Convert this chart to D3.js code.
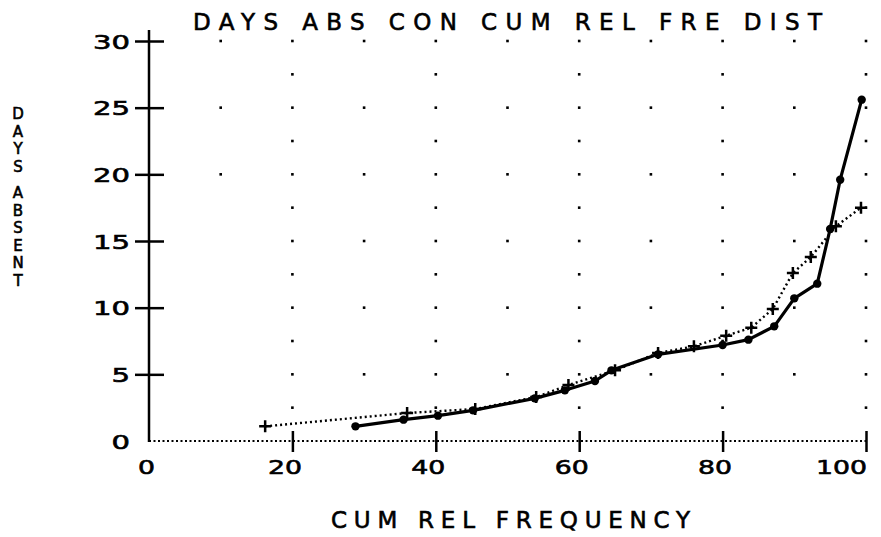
<!DOCTYPE html>
<html>
<head>
<meta charset="utf-8">
<script src="https://cdn.jsdelivr.net/npm/d3@7/dist/d3.min.js"></script>
<style>
  html, body { margin: 0; padding: 0; background: #fff; }
  svg { display: block; }
  text { font-family: "DejaVu Sans", sans-serif; fill: #000; stroke: #000; stroke-width: 0.6; }
</style>
</head>
<body>
<svg id="chart"></svg>
<script>
// values
const solidX = [28.8, 35.5, 40.3, 45.2, 53.8, 58.0, 62.2, 64.5, 71.0, 80.0, 83.6, 87.2, 90.0, 93.2, 95.0, 96.4, 99.4];
const solidY = [1.1, 1.6, 1.9, 2.3, 3.2, 3.8, 4.5, 5.3, 6.5, 7.2, 7.6, 8.6, 10.7, 11.8, 15.9, 19.6, 25.6];

const dottedX = [16.2, 36.0, 45.5, 54.0, 58.5, 65.0, 71.0, 76.0, 80.5, 84.0, 87.0, 89.8, 92.3, 95.8, 99.3];
const dottedY = [1.1, 2.1, 2.4, 3.3, 4.2, 5.3, 6.6, 7.1, 7.9, 8.5, 9.9, 12.6, 13.8, 16.1, 17.5];

const xTicks = [0, 20, 40, 60, 80, 100];
const yTicks = [0, 5, 10, 15, 20, 25, 30];
const gridX = [10, 20, 30, 40, 50, 60, 70, 80, 90, 100];
const gridY = [2.5, 5, 7.5, 10, 12.5, 15, 17.5, 20, 22.5, 25, 27.5, 30];

const title = 'DAYS ABS CON CUM REL FRE DIST';
const xTitle = 'CUM REL FREQUENCY';
const yTitle = ['DAYS', 'ABSENT'];

const width = 881;
const height = 537;

const svg = d3.select('#chart')
  .attr('width', width)
  .attr('height', height);

const x = d3.scaleLinear().domain([0, 100]).range([149, 866]);
const y = d3.scaleLinear().domain([0, 30]).range([441, 41]);

// stretch a text to a given width, plotter style
function fit(sel, len, mode) {
  sel.attr('textLength', len).attr('lengthAdjust', mode || 'spacing');
}

// dotted background grid
const gridPts = [];
gridX.forEach((gx) => {
  gridY.forEach((gy) => {
    const full = gy % 5 === 0;
    if (!full && gx % 20 !== 0) return;
    if (gx === 10 && gy < 20) return;
    gridPts.push([gx, gy]);
  });
});

svg.append('g')
  .selectAll('rect')
  .data(gridPts)
  .enter()
  .append('rect')
  .attr('x', (d) => x(d[0]) - 1.3)
  .attr('y', (d) => y(d[1]) - 1.3)
  .attr('width', 2.6)
  .attr('height', 2.6)
  .attr('fill', '#000');

// y axis
const yAxis = svg.append('g')
  .attr('transform', `translate(${x(0)},0)`)
  .call(d3.axisLeft(y).tickValues(yTicks).tickSize(14).tickPadding(7));

yAxis.select('.domain').remove();
yAxis.selectAll('.tick line')
  .attr('x1', 15)
  .attr('stroke', '#000')
  .attr('stroke-width', 2.5)
  .filter((d) => d === 0).remove();
yAxis.selectAll('.tick text')
  .attr('font-family', '"DejaVu Sans", sans-serif')
  .attr('font-size', 20)
  .attr('x', -19)
  .attr('dy', '0.36em')
  .each(function (d) {
    fit(d3.select(this), String(d).length * 18.5, 'spacingAndGlyphs');
  });

svg.append('line')
  .attr('x1', x(0)).attr('x2', x(0))
  .attr('y1', y(30) - 11).attr('y2', y(0) + 1)
  .attr('stroke', '#000')
  .attr('stroke-width', 2.5);

// x axis (dotted baseline)
const xAxis = svg.append('g')
  .attr('transform', `translate(0,${y(0)})`)
  .call(d3.axisBottom(x).tickValues(xTicks).tickSize(11));

xAxis.select('.domain').remove();
xAxis.selectAll('.tick line')
  .attr('y1', -10)
  .attr('stroke', '#000')
  .attr('stroke-width', 2.5)
  .filter((d) => d === 0).remove();
xAxis.selectAll('.tick text')
  .attr('font-family', '"DejaVu Sans", sans-serif')
  .attr('font-size', 20)
  .attr('y', 33)
  .attr('dy', 0)
  .attr('x', (d) => (d === 0 ? -3 : d === 100 ? -25 : -8))
  .each(function (d) {
    fit(d3.select(this), String(d).length * 17, 'spacingAndGlyphs');
  });

svg.append('line')
  .attr('x1', x(0)).attr('x2', x(100) + 3)
  .attr('y1', y(0)).attr('y2', y(0))
  .attr('stroke', '#000')
  .attr('stroke-width', 2)
  .attr('stroke-dasharray', '2,2.5');

// series
const line = d3.line()
  .x((d) => x(d[0]))
  .y((d) => y(d[1]));

const solid = solidX.map((v, i) => [v, solidY[i]]);
const dotted = dottedX.map((v, i) => [v, dottedY[i]]);

svg.append('path')
  .datum(dotted)
  .attr('d', line)
  .attr('fill', 'none')
  .attr('stroke', '#000')
  .attr('stroke-width', 2.4)
  .attr('stroke-dasharray', '2,3');

svg.append('g')
  .selectAll('path')
  .data(dotted)
  .enter()
  .append('path')
  .attr('transform', (d) => `translate(${x(d[0])},${y(d[1])})`)
  .attr('d', 'M-6,0H6M0,-6V6')
  .attr('stroke', '#000')
  .attr('stroke-width', 2.5);

svg.append('path')
  .datum(solid)
  .attr('d', line)
  .attr('fill', 'none')
  .attr('stroke', '#000')
  .attr('stroke-width', 3.2)
  .attr('stroke-linejoin', 'round');

svg.append('g')
  .selectAll('circle')
  .data(solid)
  .enter()
  .append('circle')
  .attr('cx', (d) => x(d[0]))
  .attr('cy', (d) => y(d[1]))
  .attr('r', 4.2)
  .attr('fill', '#000');

// titles
svg.append('text')
  .attr('x', 193)
  .attr('y', 30)
  .attr('font-size', 23)
  .text(title)
  .call(fit, 629);

svg.append('text')
  .attr('x', 331)
  .attr('y', 528)
  .attr('font-size', 23)
  .text(xTitle)
  .call(fit, 359);

// y title: two words, letters stacked upright
const yLetters = [];
yTitle.forEach((word, w) => {
  word.split('').forEach((ch, i) => {
    yLetters.push({ch: ch, y: (w === 0 ? 119 : 198) + i * 17.6});
  });
});

svg.append('g')
  .selectAll('text')
  .data(yLetters)
  .enter()
  .append('text')
  .attr('x', 18)
  .attr('y', (d) => d.y)
  .attr('text-anchor', 'middle')
  .attr('font-size', 15)
  .attr('stroke-width', 0.5)
  .text((d) => d.ch);
</script>
</body>
</html>
